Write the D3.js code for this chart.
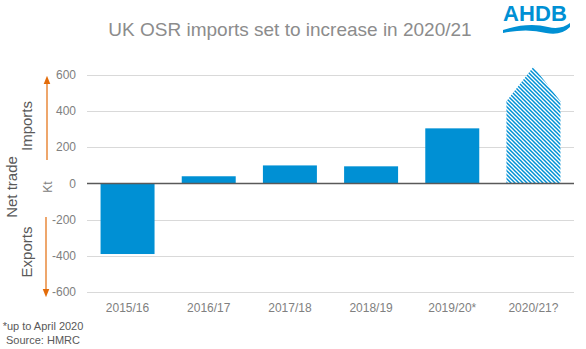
<!DOCTYPE html>
<html>
<head>
<meta charset="utf-8">
<style>
  body { margin: 0; background: #fff; }
  svg { font-family: "Liberation Sans", Arial, sans-serif; }
  .tick-label { fill: #808080; font-size: 12px; }
  .grid { stroke: #d9d9d9; stroke-width: 1; }
</style>
<script src="https://d3js.org/d3.v7.min.js"></script>
</head>
<body>
<svg width="586" height="349"></svg>
<script>
// chart data
var categories = ['2015/16', '2016/17', '2017/18', '2018/19', '2019/20*', '2020/21?'];
var netTrade = [-390, 40, 100, 95, 305, null];
var forecast = [455, 645];   // 2020/21? estimate: low edge, peak
var yTicks = [-600, -400, -200, 0, 200, 400, 600];

var svg = d3.select('svg');
var blue = '#0090d4';
var orange = '#e36c0a';

var x = d3.scaleBand().domain(categories).range([87, 574]).paddingInner(0.335).paddingOuter(0.167);
var y = d3.scaleLinear().domain([-600, 600]).range([292, 75]);

// hatch pattern for the forecast bar ("\" stripes)
var pat = svg.append('defs').append('pattern')
    .attr('id', 'hatch')
    .attr('patternUnits', 'userSpaceOnUse')
    .attr('width', 4).attr('height', 4);
pat.append('rect').attr('width', 4).attr('height', 4).attr('fill', '#fff');
pat.append('path')
    .attr('d', 'M-1,-1L5,5M-1,3L1,5M3,-1L5,1')
    .attr('stroke', blue).attr('stroke-width', 1.5);

// gridlines
svg.selectAll('.grid').data(yTicks.filter(function(d) { return d !== 0; }))
  .enter().append('line')
    .attr('class', 'grid')
    .attr('x1', 87).attr('x2', 574)
    .attr('y1', function(d) { return Math.round(y(d)) + 0.5; })
    .attr('y2', function(d) { return Math.round(y(d)) + 0.5; });

// y tick labels
svg.selectAll('.tick-label').data(yTicks)
  .enter().append('text')
    .attr('class', 'tick-label')
    .attr('x', 76)
    .attr('y', function(d) { return y(d) + 4; })
    .attr('text-anchor', 'end')
    .text(function(d) { return d; });

// bars
var barData = categories.map(function(c, i) { return { cat: c, v: netTrade[i] }; })
    .filter(function(d) { return d.v !== null; });
svg.selectAll('.bar').data(barData)
  .enter().append('rect')
    .attr('class', 'bar')
    .attr('fill', blue)
    .attr('x', function(d) { return x(d.cat); })
    .attr('width', x.bandwidth())
    .attr('y', function(d) { return y(Math.max(0, d.v)); })
    .attr('height', function(d) { return Math.abs(y(d.v) - y(0)); });

// forecast shape (hatched)
var fc = categories[5];
var x0 = x(fc), x1 = x(fc) + x.bandwidth(), xc = x(fc) + x.bandwidth() / 2;
svg.append('path')
    .attr('fill', 'url(#hatch)')
    .attr('d', 'M' + x0 + ',' + y(0) + 'L' + x0 + ',' + y(forecast[0]) +
               'L' + xc + ',' + y(forecast[1]) + 'L' + x1 + ',' + y(forecast[0]) +
               'L' + x1 + ',' + y(0) + 'Z');

// zero line
svg.append('line')
    .attr('x1', 87).attr('x2', 574)
    .attr('y1', y(0)).attr('y2', y(0))
    .attr('stroke', '#595959').attr('stroke-width', 1.5);

// category labels
svg.selectAll('.cat').data(categories)
  .enter().append('text')
    .attr('class', 'tick-label')
    .attr('x', function(d) { return x(d) + x.bandwidth() / 2; })
    .attr('y', 312)
    .attr('text-anchor', 'middle')
    .text(function(d) { return d; });

// left side labels
function vlabel(txt, cx, cy, size, color) {
  svg.append('text')
    .attr('transform', 'translate(' + cx + ',' + cy + ') rotate(-90)')
    .attr('text-anchor', 'middle')
    .attr('font-size', size)
    .attr('fill', color)
    .text(txt);
}
vlabel('Net trade', 17, 187, 15, '#595959');
vlabel('Imports', 32, 126, 15, '#595959');
vlabel('Exports', 32, 252, 15, '#595959');
vlabel('Kt', 52, 187, 12, '#808080');

// arrows
svg.append('defs').append('marker')
    .attr('id', 'arr').attr('viewBox', '0 0 10 10')
    .attr('refX', 5).attr('refY', 5)
    .attr('markerWidth', 7).attr('markerHeight', 7)
    .attr('orient', 'auto')
  .append('path').attr('d', 'M0,1L10,5L0,9Z').attr('fill', orange);
svg.append('line').attr('x1', 47).attr('x2', 47).attr('y1', 160).attr('y2', 80)
    .attr('stroke', orange).attr('stroke-width', 1.2).attr('marker-end', 'url(#arr)');
svg.append('line').attr('x1', 46).attr('x2', 46).attr('y1', 217).attr('y2', 293)
    .attr('stroke', orange).attr('stroke-width', 1.2).attr('marker-end', 'url(#arr)');

// title
svg.append('text')
    .attr('x', 290).attr('y', 36)
    .attr('text-anchor', 'middle')
    .attr('font-size', 19)
    .attr('fill', '#8c8c8c')
    .text('UK OSR imports set to increase in 2020/21');

// logo
svg.append('text')
    .attr('x', 535).attr('y', 21)
    .attr('text-anchor', 'middle')
    .attr('font-size', 22).attr('font-weight', 'bold')
    .attr('fill', blue)
    .attr('textLength', 64)
    .text('AHDB');
svg.append('path')
    .attr('fill', blue)
    .attr('d', 'M503,30 Q528,22 548,27 Q561,30 570,23 L570,27 Q561,36 546,33 Q527,28 503,33 Z');

// footnotes
svg.append('text').attr('x', 43).attr('y', 330).attr('text-anchor', 'middle')
    .attr('font-size', 11).attr('fill', '#595959').text('*up to April 2020');
svg.append('text').attr('x', 43).attr('y', 344).attr('text-anchor', 'middle')
    .attr('font-size', 11).attr('fill', '#595959').text('Source: HMRC');
</script>
</body>
</html>
